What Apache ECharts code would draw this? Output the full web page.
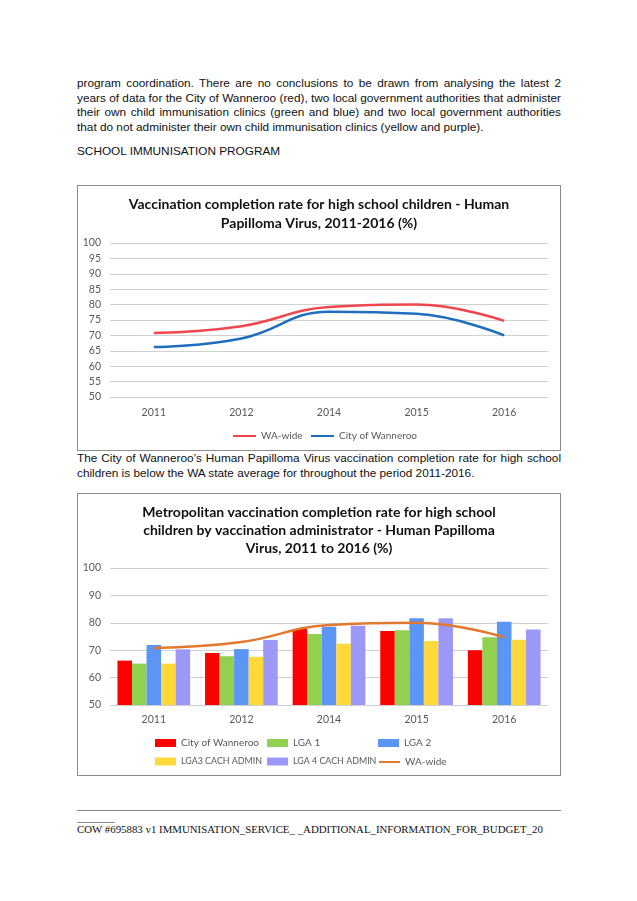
<!DOCTYPE html>
<html>
<head>
<meta charset="utf-8">
<script src="https://cdn.jsdelivr.net/npm/echarts@6/dist/echarts.min.js"></script>
<style>
  html, body { margin:0; padding:0; background:#fff; }
  body { width:637px; height:901px; position:relative; overflow:hidden; font-family:"Liberation Sans", Arial, sans-serif; color:#111; }
  .p { position:absolute; left:77px; width:484px; font-size:11.8px; line-height:14.7px; }
  .p .j { text-align:justify; text-align-last:justify; white-space:nowrap; }
  .p .l { text-align:left; white-space:nowrap; }
  .box { position:absolute; left:77px; width:484px; border:1px solid #8c8c8c; box-sizing:border-box; }
  #c1 { top:185px; height:266px; }
  #c2 { top:493px; height:283px; }
  .hr { position:absolute; background:#888; height:1px; }
  .foot { position:absolute; left:77px; top:823px; font-family:"Liberation Serif", "Times New Roman", serif; font-size:10.85px; color:#111; white-space:nowrap; }
</style>
</head>
<body>
<div class="p" style="top:76px;">
  <div class="j">program coordination. There are no conclusions to be drawn from analysing the latest 2</div>
  <div class="j">years of data for the City of Wanneroo (red), two local government authorities that administer</div>
  <div class="j">their own child immunisation clinics (green and blue) and two local government authorities</div>
  <div class="l">that do not administer their own child immunisation clinics (yellow and purple).</div>
</div>
<div class="p" style="top:144px;"><div class="l">SCHOOL IMMUNISATION PROGRAM</div></div>
<div id="c1" class="box"></div>
<div class="p" style="top:451px;">
  <div class="j">The City of Wanneroo’s Human Papilloma Virus vaccination completion rate for high school</div>
  <div class="l">children is below the WA state average for throughout the period 2011-2016.</div>
</div>
<div id="c2" class="box"></div>
<div class="hr" style="left:77px; top:810px; width:484px;"></div>
<div class="hr" style="left:77px; top:822px; width:38px;"></div>
<div class="foot">COW #695883 v1 IMMUNISATION_SERVICE_ _ADDITIONAL_INFORMATION_FOR_BUDGET_20</div>
<script>
// ---- data ----
var years = ['2011', '2012', '2014', '2015', '2016'];
var waWide = [70.8, 73.0, 79.2, 80.0, 74.7];
var wanneroo = [66.2, 69.0, 77.7, 77.0, 70.0];
var lga1 = [65.1, 67.8, 75.9, 77.3, 74.7];
var lga2 = [71.9, 70.4, 78.6, 81.7, 80.4];
var lga3 = [65.1, 67.6, 72.4, 73.4, 73.8];
var lga4 = [70.3, 73.7, 78.9, 81.7, 77.6];
var yTicks1 = [50, 55, 60, 65, 70, 75, 80, 85, 90, 95, 100];
var yTicks2 = [50, 60, 70, 80, 90, 100];
var title1 = 'Vaccination completion rate for high school children - Human\nPapilloma Virus, 2011-2016 (%)';
var title2 = 'Metropolitan vaccination completion rate for high school\nchildren by vaccination administrator - Human Papilloma\nVirus, 2011 to 2016 (%)';

var FONT = 'Lato';
var gridColor = '#d0d0d0';
var labelColor = '#595959';
var legText = { fontFamily: FONT, fontSize: 10, color: labelColor };
var legTextSmall = { fontFamily: FONT, fontSize: 8.9, color: labelColor };

var c1 = echarts.init(document.getElementById('c1'));
c1.setOption({
  animation: false,
  title: {
    text: title1, left: 'center', top: 4,
    textStyle: { fontFamily: FONT, fontSize: 14, fontWeight: 'bold', color: '#111', lineHeight: 19 }
  },
  grid: { left: 32, right: 12, top: 57, height: 154 },
  legend: [
    { left: 154, top: 245, padding: 0, itemWidth: 23, itemHeight: 8, textStyle: legText, data: [{ name: 'WA-wide', itemStyle: { opacity: 0 } }] },
    { left: 232, top: 245, padding: 0, itemWidth: 23, itemHeight: 8, textStyle: legText, data: [{ name: 'City of Wanneroo', itemStyle: { opacity: 0 } }] }
  ],
  xAxis: {
    type: 'category', data: years, boundaryGap: true,
    axisLine: { show: false }, axisTick: { show: false },
    axisLabel: { fontFamily: FONT, fontSize: 10.5, color: labelColor, margin: 10 }
  },
  yAxis: {
    type: 'value', min: yTicks1[0], max: yTicks1[yTicks1.length - 1], interval: yTicks1[1] - yTicks1[0],
    axisLine: { show: false }, axisTick: { show: false },
    axisLabel: { fontFamily: FONT, fontSize: 10.5, color: labelColor, margin: 9 },
    splitLine: { lineStyle: { color: gridColor, width: 1 } }
  },
  series: [
    { name: 'WA-wide', type: 'line', data: waWide, smooth: 0.45, symbol: 'none', lineStyle: { color: '#f0474f', width: 2.5 }, itemStyle: { color: '#f0474f' } },
    { name: 'City of Wanneroo', type: 'line', data: wanneroo, smooth: 0.45, symbol: 'none', lineStyle: { color: '#1f6dbd', width: 2.5 }, itemStyle: { color: '#1f6dbd' } }
  ]
});

var c2 = echarts.init(document.getElementById('c2'));
var barColors = ['#ff0000', '#92d050', '#5b95f5', '#ffd93a', '#9c98f8'];
var barNames = ['City of Wanneroo', 'LGA 1', 'LGA 2', 'LGA3 CACH ADMIN', 'LGA 4 CACH ADMIN'];
var barData = [wanneroo, lga1, lga2, lga3, lga4];
var series2 = barNames.map(function (n, i) {
  return { name: n, type: 'bar', data: barData[i], barGap: '0%', barCategoryGap: '17%', itemStyle: { color: barColors[i] }, z: 2 };
});
series2.push({ name: 'WA-wide', type: 'line', data: waWide, smooth: 0.45, symbol: 'none', lineStyle: { color: '#e2792f', width: 2.5 }, itemStyle: { color: '#e2792f' }, z: 3 });

var legPos = [[77, 244], [189, 244], [300, 244], [77, 263], [189, 263], [300, 263]];
var legNames = barNames.concat(['WA-wide']);
var legends2 = legNames.map(function (n, i) {
  var item = i < 5 ? { name: n, icon: 'rect' } : { name: n, itemStyle: { opacity: 0 } };
  var ts = (i === 3 || i === 4) ? legTextSmall : legText;
  return { left: legPos[i][0], top: legPos[i][1], padding: 0, itemWidth: 21, itemHeight: 8, textStyle: ts, data: [item] };
});

c2.setOption({
  animation: false,
  title: {
    text: title2, left: 'center', top: 4,
    textStyle: { fontFamily: FONT, fontSize: 14, fontWeight: 'bold', color: '#111', lineHeight: 18.3 }
  },
  grid: { left: 32, right: 12, top: 74, height: 137 },
  legend: legends2,
  xAxis: {
    type: 'category', data: years,
    axisLine: { show: false }, axisTick: { show: false },
    axisLabel: { fontFamily: FONT, fontSize: 10.5, color: labelColor, margin: 9 }
  },
  yAxis: {
    type: 'value', min: yTicks2[0], max: yTicks2[yTicks2.length - 1], interval: yTicks2[1] - yTicks2[0],
    axisLine: { show: false }, axisTick: { show: false },
    axisLabel: { fontFamily: FONT, fontSize: 10.5, color: labelColor, margin: 9 },
    splitLine: { lineStyle: { color: gridColor, width: 1 } }
  },
  series: series2
});
</script>
</body>
</html>
